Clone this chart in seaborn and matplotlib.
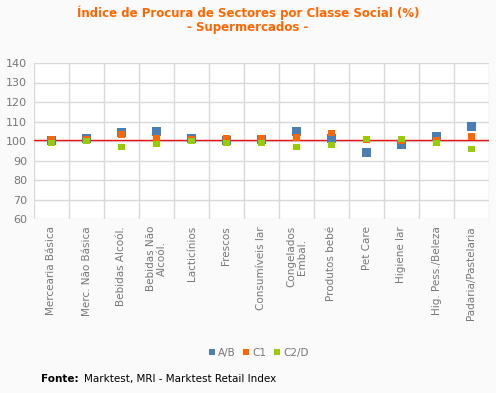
import matplotlib.pyplot as plt
import matplotlib.ticker as mtick
from matplotlib.lines import Line2D
import numpy as np
import pandas as pd
import seaborn as sns

categorias = [
    "Mercearia Básica", "Merc. Não Básica", "Bebidas Alcoól.", "Bebidas Não\nAlcoól.",
    "Lacticínios", "Frescos", "Consumíveis lar", "Congelados\nEmbal.",
    "Produtos bebé", "Pet Care", "Higiene lar", "Hig. Pess./Beleza", "Padaria/Pastelaria",
]
ab = [100.5, 101.2, 104.3, 105.1, 101.2, 100.2, 101.0, 105.1, 101.2, 94.0, 98.1, 102.2, 107.4]
c1 = [101.0, 100.6, 103.1, 101.2, 100.6, 101.2, 101.4, 102.0, 104.1, 101.0, 100.0, 100.3, 102.2]
c2d = [99.2, 100.0, 97.1, 98.3, 100.2, 99.1, 99.0, 97.1, 98.1, 101.2, 101.2, 99.1, 96.1]
series = ["A/B", "C1", "C2/D"]
linha_ref = 100.4

cores = {"A/B": "#4a7eb5", "C1": "#ff6600", "C2/D": "#99cc00"}
tamanhos = {"A/B": 42, "C1": 25, "C2/D": 19}

df = pd.DataFrame({
    "categoria": categorias * 3,
    "valor": ab + c1 + c2d,
    "classe": [s for s in series for _ in categorias],
})

sns.set_style("white")
plt.rcParams["font.family"] = ["DejaVu Sans"]

fig = plt.figure(figsize=(4.96, 3.93), dpi=100, facecolor="#fafafa")
ax = fig.add_axes([34 / 496, 1 - 219 / 393, 455 / 496, 156 / 393])
ax.set_facecolor("white")

pos = np.arange(len(categorias))
df["x"] = np.tile(pos, 3)

ax.axhline(linha_ref, color="#ee1111", linewidth=1.0, zorder=2)

# uma chamada por classe, para manter a ordem de desenho azul -> laranja -> verde
for s in series:
    sns.scatterplot(
        data=df[df["classe"] == s], x="x", y="valor", color=cores[s],
        s=tamanhos[s], marker="s", linewidth=0, edgecolor="none",
        legend=False, ax=ax, zorder=3,
    )

ax.set_xlim(-0.5, len(categorias) - 0.5)
ax.set_ylim(60, 140)
ax.yaxis.set_major_locator(mtick.MultipleLocator(10))
ax.set_xticks(pos)
ax.set_xticklabels(categorias, rotation=90, fontsize=7.5, color="#777777", linespacing=1.0)
ax.set_xticks(np.arange(-0.5, len(categorias), 1), minor=True)
ax.tick_params(axis="x", which="major", length=0, pad=5)
ax.tick_params(axis="x", which="minor", length=3, color="#d9d9d9")
ax.tick_params(axis="y", labelsize=8, colors="#777777", length=3, pad=2)
ax.grid(True, axis="y", color="#d9d9d9", linewidth=1)
ax.grid(True, axis="x", which="minor", color="#d9d9d9", linewidth=1)
ax.set_axisbelow(True)
for lado in ["top", "right", "bottom", "left"]:
    ax.spines[lado].set_visible(False)
ax.set_xlabel("")
ax.set_ylabel("")

fig.text(0.5, 1 - 13 / 393, "Índice de Procura de Sectores por Classe Social (%)",
         ha="center", va="center", fontsize=8.5, fontweight="bold", color="#ff6600")
fig.text(0.5, 1 - 27 / 393, "- Supermercados -",
         ha="center", va="center", fontsize=8.5, fontweight="bold", color="#ff6600")

handles = [Line2D([0], [0], marker="s", linestyle="", markersize=5,
                  markerfacecolor=cores[s], markeredgewidth=0, label=s) for s in series]
fig.legend(handles=handles, loc="center", bbox_to_anchor=(258 / 496, 1 - 353 / 393),
           ncol=3, frameon=False, fontsize=7.5, handletextpad=0.2, columnspacing=0.6,
           labelcolor="#777777", handlelength=0.8)

fig.text(41 / 496, 1 - 379 / 393, "Fonte:", ha="left", va="center",
         fontsize=7.5, fontweight="bold", color="black")
fig.text(84 / 496, 1 - 379 / 393, "Marktest, MRI - Marktest Retail Index",
         ha="left", va="center", fontsize=7.5, color="black")

fig.savefig("out.png", dpi=100, facecolor=fig.get_facecolor())
